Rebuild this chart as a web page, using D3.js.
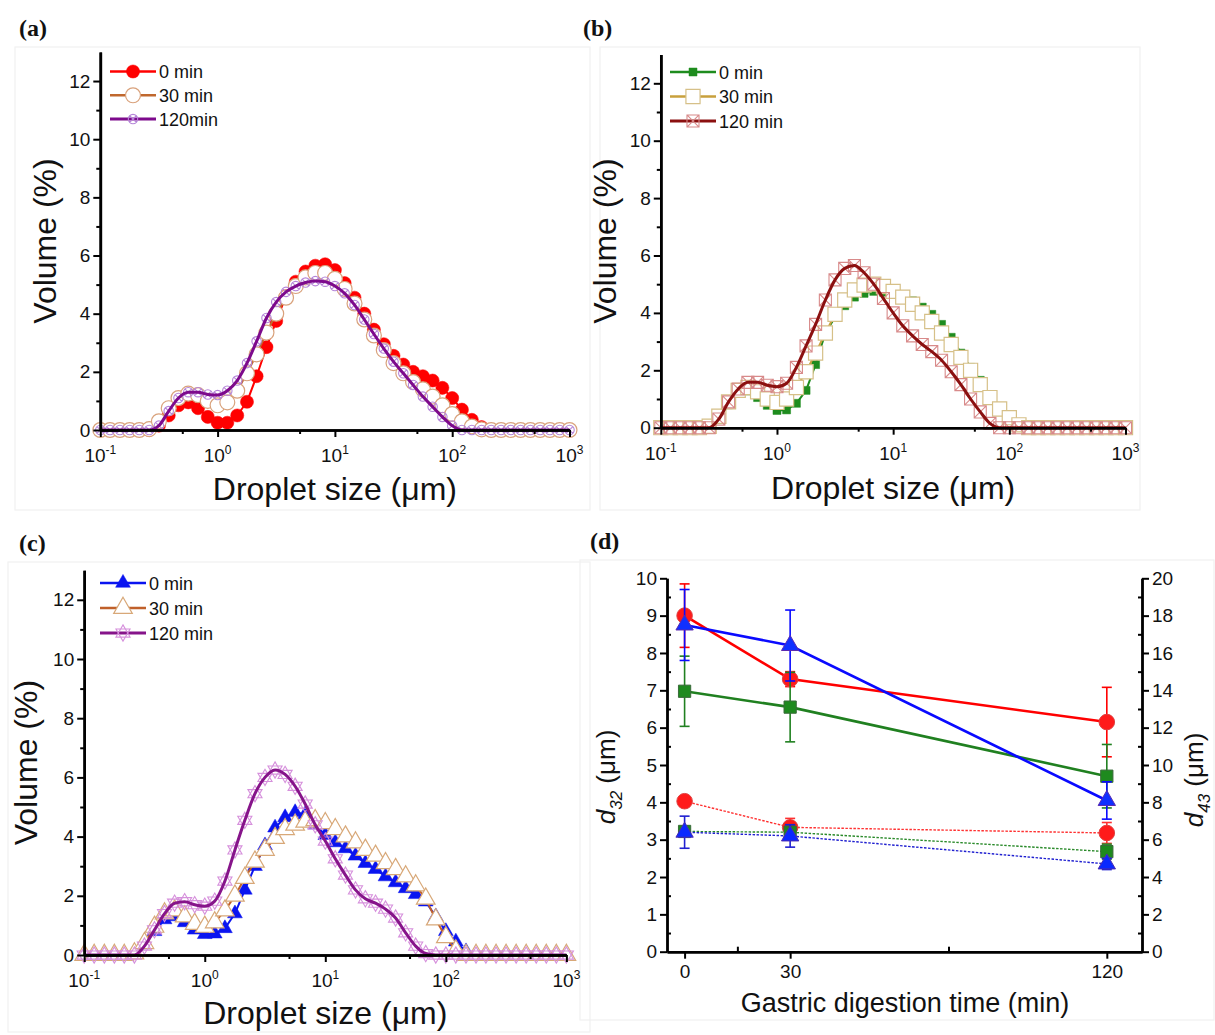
<!DOCTYPE html>
<html>
<head>
<meta charset="utf-8">
<script src="https://cdn.jsdelivr.net/npm/d3@7"></script>
<style>
  body { margin: 0; background: #fff; }
  svg { display: block; }
  text { font-family: Arial, "Liberation Sans", sans-serif; fill: #111; }
</style>
</head>
<body>
<svg id="fig" width="1215" height="1035"></svg>
<script>
// Laser-diffraction size classes (µm), log spaced
const sizes = [0.1, 0.121, 0.147, 0.178, 0.215, 0.261, 0.316, 0.383, 0.464, 0.562, 0.681, 0.825,
  1, 1.21, 1.47, 1.78, 2.15, 2.61, 3.16, 3.83, 4.64, 5.62, 6.81, 8.25,
  10, 12.1, 14.7, 17.8, 21.5, 26.1, 31.6, 38.3, 46.4, 56.2, 68.1, 82.5,
  100, 121, 147, 178, 215, 261, 316, 383, 464, 562, 681, 825, 1000];

// (a) volume distribution, %
const aMin0 = [0, 0, 0, 0, 0, 0, 0.15, 0.5, 0.85, 0.95, 0.75, 0.45,
  0.25, 0.25, 0.5, 0.97, 1.85, 2.85, 3.75, 4.6, 5.1, 5.45, 5.65, 5.7,
  5.5, 5.05, 4.55, 4.0, 3.45, 2.95, 2.55, 2.25, 2.0, 1.85, 1.7, 1.45,
  1.1, 0.7, 0.35, 0.1, 0, 0, 0, 0, 0, 0, 0, 0, 0];
const aMin30 = [0, 0, 0, 0, 0, 0.03, 0.3, 0.75, 1.1, 1.25, 1.2, 1.0,
  0.85, 0.95, 1.35, 1.95, 2.6, 3.35, 4.0, 4.55, 4.95, 5.25, 5.4, 5.4,
  5.2, 4.85, 4.35, 3.8, 3.25, 2.75, 2.3, 1.95, 1.65, 1.4, 1.15, 0.85,
  0.55, 0.3, 0.12, 0.02, 0, 0, 0, 0, 0, 0, 0, 0, 0];
const aMin120 = [0, 0, 0, 0, 0, 0, 0.15, 0.65, 1.1, 1.3, 1.3, 1.22,
  1.2, 1.35, 1.7, 2.3, 3.05, 3.85, 4.4, 4.75, 4.95, 5.07, 5.12, 5.1,
  4.95, 4.7, 4.3, 3.8, 3.3, 2.8, 2.35, 1.95, 1.55, 1.15, 0.8, 0.45,
  0.15, 0, 0, 0, 0, 0, 0, 0, 0, 0, 0, 0, 0];

// (b) volume distribution, %
const bMin0 = [0, 0, 0, 0, 0, 0.05, 0.35, 0.8, 1.2, 1.28, 1.05, 0.78,
  0.6, 0.62, 0.85, 1.3, 2.2, 3.3, 3.85, 4.25, 4.55, 4.68, 4.75, 4.72,
  4.65, 4.55, 4.42, 4.2, 3.95, 3.6, 3.15, 2.6, 2.1, 1.65, 1.1, 0.7,
  0.38, 0.15, 0.02, 0, 0, 0, 0, 0, 0, 0, 0, 0, 0];
const bMin30 = [0, 0, 0, 0, 0, 0.05, 0.4, 0.9, 1.3, 1.4, 1.25, 1.0,
  0.88, 1.0, 1.4, 1.95, 2.6, 3.3, 3.95, 4.45, 4.8, 4.97, 5.0, 4.92,
  4.75, 4.55, 4.3, 4.0, 3.7, 3.3, 2.9, 2.45, 2.0, 1.5, 1.05, 0.65,
  0.35, 0.1, 0, 0, 0, 0, 0, 0, 0, 0, 0, 0, 0];
const bMin120 = [0, 0, 0, 0, 0, 0, 0.3, 0.9, 1.35, 1.58, 1.58, 1.48,
  1.43, 1.55, 2.1, 2.85, 3.6, 4.45, 5.15, 5.55, 5.65, 5.4, 5.0, 4.5,
  4.0, 3.55, 3.2, 2.9, 2.65, 2.35, 1.95, 1.5, 1.0, 0.55, 0.15, 0,
  0, 0, 0, 0, 0, 0, 0, 0, 0, 0, 0, 0, 0];

// (c) volume distribution, %
const cMin0 = [0, 0, 0, 0, 0, 0.05, 0.35, 0.8, 1.2, 1.3, 1.1, 0.85,
  0.7, 0.72, 0.9, 1.4, 2.2, 3.0, 3.7, 4.3, 4.65, 4.82, 4.75, 4.4,
  4.05, 3.8, 3.6, 3.35, 3.1, 2.9, 2.65, 2.45, 2.25, 2.05, 1.8, 1.3,
  0.8, 0.45, 0.12, 0, 0, 0, 0, 0, 0, 0, 0, 0, 0];
const cMin30 = [0, 0, 0, 0, 0, 0.05, 0.4, 0.95, 1.4, 1.5, 1.3, 1.05,
  0.95, 1.1, 1.5, 2.0, 2.6, 3.15, 3.55, 3.95, 4.25, 4.4, 4.5, 4.55,
  4.45, 4.25, 4.0, 3.8, 3.55, 3.35, 3.1, 2.9, 2.65, 2.35, 1.9, 1.2,
  0.6, 0.15, 0, 0, 0, 0, 0, 0, 0, 0, 0, 0, 0];
const cMin120 = [0, 0, 0, 0, 0, 0, 0.3, 0.85, 1.4, 1.75, 1.8, 1.7,
  1.65, 1.82, 2.5, 3.55, 4.55, 5.45, 6.0, 6.25, 6.1, 5.7, 5.1, 4.4,
  3.85, 3.25, 2.7, 2.2, 1.9, 1.75, 1.55, 1.25, 0.75, 0.3, 0.05, 0,
  0, 0, 0, 0, 0, 0, 0, 0, 0, 0, 0, 0, 0];

// (d) mean diameters vs. gastric digestion time
const digestTimes = [0, 30, 120];
const d43Red = [18.0, 14.6, 12.3],   d43RedErr = [1.7, 0.4, 1.86];
const d43Green = [13.95, 13.1, 9.4], d43GreenErr = [1.88, 1.86, 1.7];
const d43Blue = [17.5, 16.4, 8.1],   d43BlueErr = [1.9, 1.9, 1.0];
const d32Red = [4.03, 3.33, 3.18],   d32RedErr = [0.05, 0.24, 0.28];
const d32Green = [3.22, 3.2, 2.68],  d32GreenErr = [0.15, 0.2, 0.2];
const d32Blue = [3.2, 3.1, 2.35],    d32BlueErr = [0.43, 0.3, 0.15];

// Axis ticks and labels
const volumeTicks = [0, 2, 4, 6, 8, 10, 12];
const volumeMinor = [1, 3, 5, 7, 9, 11];
const decadeTicks = [0.1, 1, 10, 100, 1000];
const decadeExponents = ["-1", "0", "1", "2", "3"];
const halfDecadeTicks = [0.5, 5, 50, 500];
const d32Ticks = [0, 1, 2, 3, 4, 5, 6, 7, 8, 9, 10];
const d32Minor = [0.5, 1.5, 2.5, 3.5, 4.5, 5.5, 6.5, 7.5, 8.5, 9.5];
const d43Ticks = [0, 2, 4, 6, 8, 10, 12, 14, 16, 18, 20];
const d43Minor = [1, 3, 5, 7, 9, 11, 13, 15, 17, 19];
const timeMinor = [15, 75];
const legendA = ["0 min", "30 min", "120min"];
const legendBC = ["0 min", "30 min", "120 min"];

const svg = d3.select("#fig");

// ---- custom marker shapes ----
const symCircleX = { draw(ctx, size) {
  const r = Math.sqrt(size / Math.PI), k = r * 0.707;
  ctx.moveTo(r, 0); ctx.arc(0, 0, r, 0, 2 * Math.PI);
  ctx.moveTo(-k, -k); ctx.lineTo(k, k); ctx.moveTo(-k, k); ctx.lineTo(k, -k);
}};
const symSquareX = { draw(ctx, size) {
  const h = Math.sqrt(size) / 2;
  ctx.moveTo(-h, -h); ctx.lineTo(h, -h); ctx.lineTo(h, h); ctx.lineTo(-h, h); ctx.closePath();
  ctx.moveTo(-h, -h); ctx.lineTo(h, h); ctx.moveTo(-h, h); ctx.lineTo(h, -h);
}};
// six-pointed star: an upward and a downward triangle
const symStar = { draw(ctx, size) {
  const r = Math.sqrt(size) / 1.6;
  for (const start of [-Math.PI / 2, Math.PI / 2]) {
    for (let i = 0; i < 3; i++) {
      const a = start + i * 2 * Math.PI / 3;
      const px = r * Math.cos(a), py = r * Math.sin(a);
      if (i === 0) ctx.moveTo(px, py); else ctx.lineTo(px, py);
    }
    ctx.closePath();
  }
}};

function styleAxis(sel, width) {
  sel.select(".domain").attr("stroke", "#000").attr("stroke-width", width || 2.6);
  sel.selectAll(".tick line").attr("stroke", "#000").attr("stroke-width", 2);
}

function panelLabel(txt, x, y) {
  svg.append("text").attr("x", x).attr("y", y)
    .style("font-family", "'Liberation Serif', 'Times New Roman', serif")
    .attr("font-weight", "bold").attr("font-size", 24).text(txt);
}

function frame(x, y, w, h) {
  svg.append("rect").attr("x", x).attr("y", y).attr("width", w).attr("height", h)
    .attr("fill", "none").attr("stroke", "#f1f1f1").attr("stroke-width", 1.2);
}

// ---- particle size distribution panel ----
function psdPanel(cfg) {
  const g = svg.append("g");
  const x = d3.scaleLog().domain([0.1, 1000]).range([cfg.left, cfg.right]);
  const y = d3.scaleLinear().domain([0, 13]).range([cfg.zero, cfg.zero - 13 * cfg.unit]);

  // series (first drawn sits underneath)
  cfg.series.forEach(s => {
    const pts = sizes.map((d, i) => ({ s: d, v: s.values[i] }));
    const line = d3.line().x(d => x(d.s)).y(d => y(d.v))
      .curve(s.smooth ? d3.curveMonotoneX : d3.curveLinear);
    const sym = d3.symbol().type(s.shape).size(s.size);
    const drawLine = () => g.append("path").datum(pts).attr("d", line)
      .attr("fill", "none").attr("stroke", s.color).attr("stroke-width", s.lw)
      .attr("stroke-linejoin", "round");
    if (!s.lineOnTop) drawLine();
    g.append("g").selectAll("path").data(pts).join("path")
      .attr("transform", d => `translate(${x(d.s)},${y(d.v)})`)
      .attr("d", sym)
      .attr("fill", s.fill).attr("stroke", s.stroke).attr("stroke-width", s.sw);
    if (s.lineOnTop) drawLine();
  });

  // axes
  const xa = g.append("g").attr("transform", `translate(0,${cfg.zero})`);
  xa.append("g").call(d3.axisBottom(x).tickValues(halfDecadeTicks).tickSize(4).tickSizeOuter(0).tickFormat(""))
    .call(s => styleAxis(s));
  xa.append("g").call(d3.axisBottom(x).tickValues(decadeTicks).tickSize(7).tickSizeOuter(0).tickFormat(""))
    .call(s => styleAxis(s));
  const ya = g.append("g").attr("transform", `translate(${cfg.left},0)`);
  ya.append("g").call(d3.axisLeft(y).tickValues(volumeMinor).tickSize(4).tickSizeOuter(0).tickFormat(""))
    .call(s => styleAxis(s));
  ya.append("g").call(d3.axisLeft(y).tickValues(volumeTicks).tickSize(7).tickSizeOuter(0).tickPadding(3))
    .call(s => styleAxis(s))
    .call(s => s.selectAll(".tick text").attr("font-size", 19).attr("fill", "#111")
      .style("font-family", "Arial, 'Liberation Sans', sans-serif"));

  // decade labels with superscripts
  const lab = g.append("g").selectAll("text").data(decadeTicks).join("text")
    .attr("x", (d) => x(d)).attr("y", cfg.zero + 32).attr("text-anchor", "middle")
    .attr("font-size", 19);
  lab.append("tspan").text("10");
  lab.append("tspan").attr("font-size", 12).attr("dy", -8).text((d, i) => decadeExponents[i]);

  // axis titles
  const xt = g.append("text").attr("x", (cfg.left + cfg.right) / 2).attr("y", cfg.titleY)
    .attr("text-anchor", "middle").attr("font-size", 32);
  xt.append("tspan").text("Droplet size (");
  xt.append("tspan").text("\u03bc");
  xt.append("tspan").text("m)");
  g.append("text").attr("transform", `translate(${cfg.yTitleX},${cfg.zero - 6.5 * cfg.unit}) rotate(-90)`)
    .attr("text-anchor", "middle").attr("font-size", 32).text("Volume (%)");

  // legend
  const lg = g.append("g");
  cfg.series.forEach((s, i) => {
    const cy = cfg.legend.y + i * cfg.legend.dy;
    lg.append("line").attr("x1", cfg.legend.x).attr("x2", cfg.legend.x + 46)
      .attr("y1", cy).attr("y2", cy).attr("stroke", s.color).attr("stroke-width", s.lw === 3 ? 3 : 2.5);
    lg.append("path").attr("transform", `translate(${cfg.legend.x + 23},${cy})`)
      .attr("d", d3.symbol().type(s.shape).size(s.size))
      .attr("fill", s.fill).attr("stroke", s.stroke).attr("stroke-width", s.sw);
    lg.append("text").attr("x", cfg.legend.x + 49).attr("y", cy + 6.5)
      .attr("font-size", 18).text(cfg.labels[i]);
  });
}

frame(15, 47, 575, 463);
frame(600, 47, 540, 463);
frame(8, 562, 582, 470);
frame(580, 560, 634, 460);

panelLabel("(a)", 19, 36);
panelLabel("(b)", 583, 36);
panelLabel("(c)", 19, 551);
panelLabel("(d)", 590, 549);

psdPanel({
  left: 100.3, right: 569.5, zero: 430, unit: 29.08, titleY: 500, yTitleX: 56,
  legend: { x: 110, y: 71.5, dy: 23.8 }, labels: legendA,
  series: [
    { values: aMin0, color: "#ff0000", lw: 2, shape: d3.symbolCircle, size: 135, fill: "#ff0000", stroke: "#ff0000", sw: 0.5 },
    { values: aMin30, color: "#c0682e", lw: 2, shape: d3.symbolCircle, size: 175, fill: "#ffffff", stroke: "#d9a27c", sw: 1.2 },
    { values: aMin120, color: "#7d0a8c", lw: 3, smooth: true, lineOnTop: true, shape: symCircleX, size: 70, fill: "none", stroke: "#b585d8", sw: 1.1 }
  ]
});

psdPanel({
  left: 660.8, right: 1125.5, zero: 427.7, unit: 28.7, titleY: 499, yTitleX: 616,
  legend: { x: 670, y: 72, dy: 24.5 }, labels: legendBC,
  series: [
    { values: bMin0, color: "#1e8c1e", lw: 2, shape: d3.symbolSquare, size: 64, fill: "#1e8c1e", stroke: "#1e8c1e", sw: 0.5 },
    { values: bMin30, color: "#c8a03c", lw: 2, shape: d3.symbolSquare, size: 200, fill: "#ffffff", stroke: "#d6c088", sw: 1.2 },
    { values: bMin120, color: "#8b1010", lw: 3, smooth: true, lineOnTop: true, shape: symSquareX, size: 145, fill: "none", stroke: "#d88a8a", sw: 1.1 }
  ]
});

psdPanel({
  left: 84.2, right: 566.4, zero: 955, unit: 29.6, titleY: 1024, yTitleX: 37,
  legend: { x: 100, y: 583, dy: 25 }, labels: legendBC,
  series: [
    { values: cMin0, color: "#0a14f0", lw: 2, shape: d3.symbolTriangle, size: 95, fill: "#0a14f0", stroke: "#0a14f0", sw: 0.5 },
    { values: cMin30, color: "#c0602a", lw: 2, shape: d3.symbolTriangle, size: 150, fill: "#ffffff", stroke: "#d8a878", sw: 1.2 },
    { values: cMin120, color: "#86148a", lw: 3, smooth: true, lineOnTop: true, shape: symStar, size: 170, fill: "none", stroke: "#d690dc", sw: 1.1 }
  ]
});

// ---- (d) mean diameters ----
(function () {
  const g = svg.append("g");
  const x = d3.scaleLinear().domain([-5, 130]).range([667, 1142]);
  const yL = d3.scaleLinear().domain([0, 10]).range([951.7, 578.3]);
  const yR = d3.scaleLinear().domain([0, 20]).range([951.7, 578.3]);

  const groups = [
    { vals: d32Red, err: d32RedErr, y: yL, color: "#ff3030", fill: "#ff1a1a", edge: "#e04040", dash: true, shape: d3.symbolCircle, size: 190 },
    { vals: d32Green, err: d32GreenErr, y: yL, color: "#2a8a2a", fill: "#1e8a1e", edge: "#3a6a3a", dash: true, shape: d3.symbolSquare, size: 150 },
    { vals: d32Blue, err: d32BlueErr, y: yL, color: "#2020d0", fill: "#0a28ff", edge: "#4a2ab0", dash: true, shape: d3.symbolTriangle, size: 130 },
    { vals: d43Red, err: d43RedErr, y: yR, color: "#ff0000", fill: "#ff1a1a", edge: "#e04040", shape: d3.symbolCircle, size: 190 },
    { vals: d43Green, err: d43GreenErr, y: yR, color: "#208020", fill: "#1e8a1e", edge: "#3a6a3a", shape: d3.symbolSquare, size: 150 },
    { vals: d43Blue, err: d43BlueErr, y: yR, color: "#0a0aff", fill: "#1030ff", edge: "#5a2ab0", shape: d3.symbolTriangle, size: 130 }
  ];

  groups.forEach(s => {
    const pts = digestTimes.map((t, i) => ({ t, v: s.vals[i], e: s.err[i] }));
    g.append("path").datum(pts)
      .attr("d", d3.line().x(d => x(d.t)).y(d => s.y(d.v)))
      .attr("fill", "none").attr("stroke", s.color)
      .attr("stroke-width", s.dash ? 1.4 : 2.6)
      .attr("stroke-dasharray", s.dash ? "2.5,1.5" : null);
    const eb = g.append("g").attr("stroke", s.color).attr("stroke-width", 1.6);
    pts.forEach(d => {
      const xc = x(d.t), y1 = s.y(d.v + d.e), y2 = s.y(d.v - d.e);
      eb.append("line").attr("x1", xc).attr("x2", xc).attr("y1", y1).attr("y2", y2);
      eb.append("line").attr("x1", xc - 5).attr("x2", xc + 5).attr("y1", y1).attr("y2", y1);
      eb.append("line").attr("x1", xc - 5).attr("x2", xc + 5).attr("y1", y2).attr("y2", y2);
    });
    g.append("g").selectAll("path").data(pts).join("path")
      .attr("transform", d => `translate(${x(d.t)},${s.y(d.v)})`)
      .attr("d", d3.symbol().type(s.shape).size(s.size))
      .attr("fill", s.fill).attr("stroke", s.edge).attr("stroke-width", 1);
  });

  const fontSel = s => s.selectAll(".tick text").attr("font-size", 19).attr("fill", "#111")
    .style("font-family", "Arial, 'Liberation Sans', sans-serif");

  const xa = g.append("g").attr("transform", "translate(0,951.7)");
  xa.append("g").call(d3.axisBottom(x).tickValues(timeMinor).tickSize(-5).tickSizeOuter(0).tickFormat(""))
    .call(s => styleAxis(s, 2.4));
  xa.append("g").call(d3.axisBottom(x).tickValues(digestTimes).tickSize(7).tickSizeOuter(0).tickPadding(6))
    .call(s => styleAxis(s, 2.4)).call(fontSel);

  const la = g.append("g").attr("transform", "translate(667,0)");
  la.append("g").call(d3.axisLeft(yL).tickValues(d32Minor).tickSize(-4).tickSizeOuter(0).tickFormat(""))
    .call(s => styleAxis(s, 2.4));
  la.append("g").call(d3.axisLeft(yL).tickValues(d32Ticks).tickSize(7).tickSizeOuter(0).tickPadding(3))
    .call(s => styleAxis(s, 2.4)).call(fontSel);

  const ra = g.append("g").attr("transform", "translate(1142,0)");
  ra.append("g").call(d3.axisRight(yR).tickValues(d43Minor).tickSize(-4).tickSizeOuter(0).tickFormat(""))
    .call(s => styleAxis(s, 2.4));
  ra.append("g").call(d3.axisRight(yR).tickValues(d43Ticks).tickSize(7).tickSizeOuter(0).tickPadding(3))
    .call(s => styleAxis(s, 2.4)).call(fontSel);

  g.append("text").attr("x", 905).attr("y", 1012).attr("text-anchor", "middle")
    .attr("font-size", 27).text("Gastric digestion time (min)");

  function diamTitle(cx, cy, sub) {
    const t = g.append("text").attr("transform", `translate(${cx},${cy}) rotate(-90)`)
      .attr("text-anchor", "middle").attr("font-size", 26);
    t.append("tspan").attr("font-style", "italic").text("d");
    t.append("tspan").attr("font-style", "italic").attr("font-size", 17).attr("dy", 7).text(sub);
    t.append("tspan").attr("dy", -7).text(" (\u03bcm)");
  }
  diamTitle(615, 777, "32");
  diamTitle(1203, 780, "43");
})();
</script>
</body>
</html>
